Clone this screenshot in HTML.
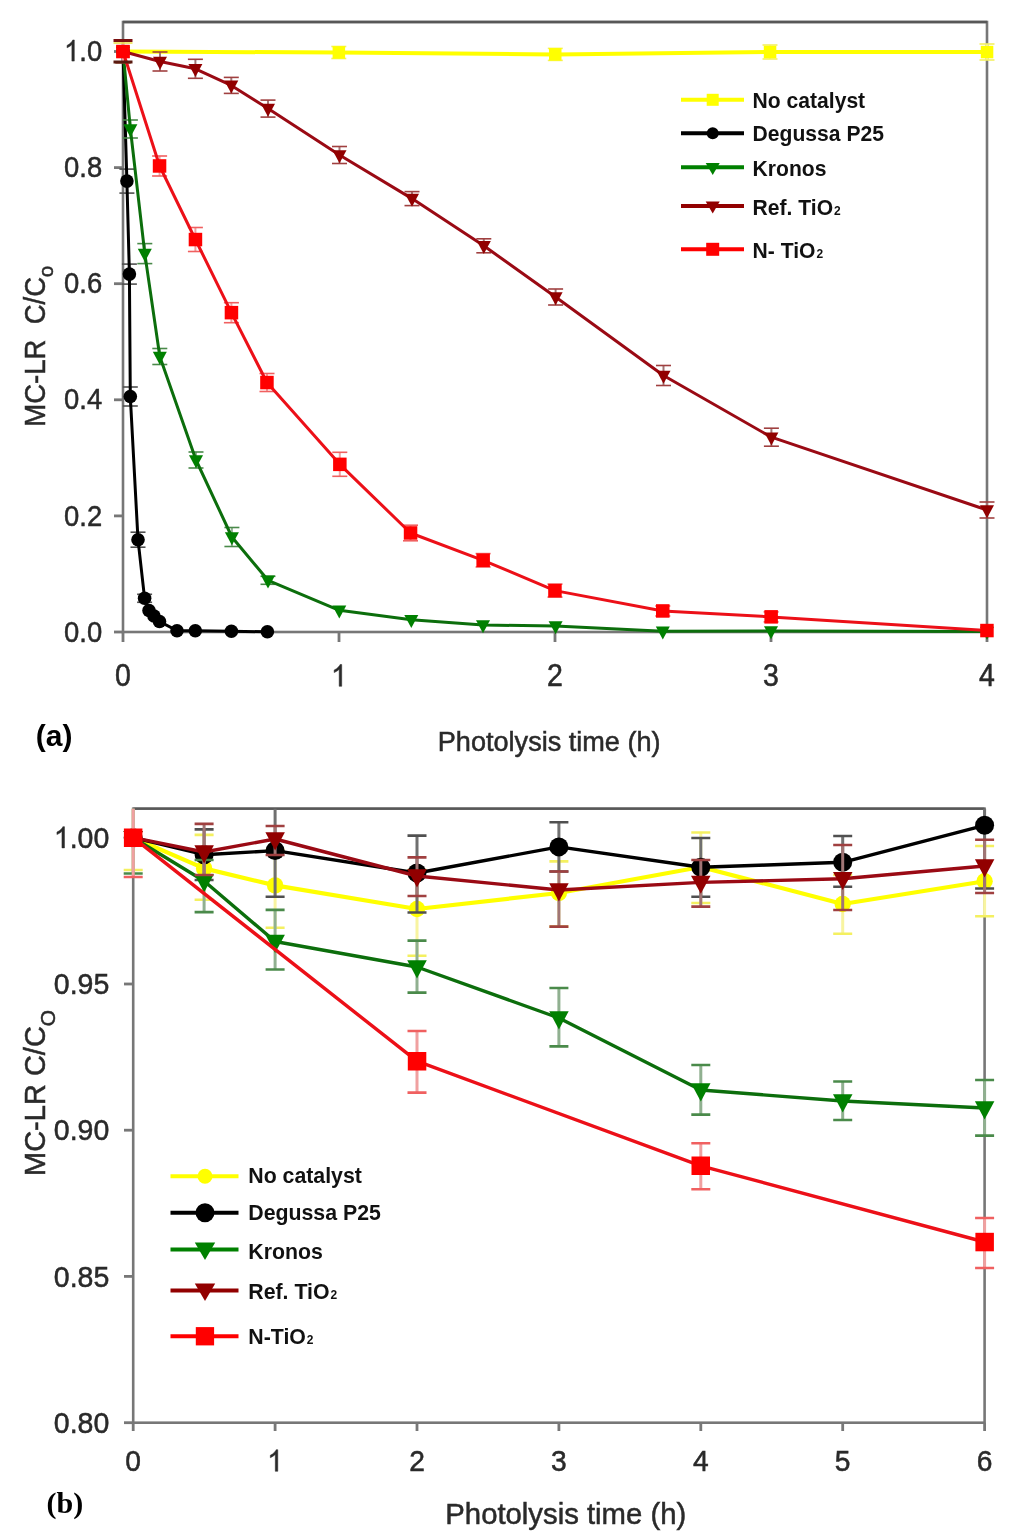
<!DOCTYPE html>
<html><head><meta charset="utf-8"><style>
html,body{margin:0;padding:0;background:#fff;}
svg{display:block;filter:blur(0.5px);font-family:"Liberation Sans", sans-serif;}
</style></head><body>
<svg width="1024" height="1538" viewBox="0 0 1024 1538">
<defs>
<clipPath id="clipA"><rect x="103" y="22" width="904" height="630"/></clipPath>
<clipPath id="clipB"><rect x="113.19999999999999" y="808.7" width="891.4000000000001" height="634.0"/></clipPath>
</defs>
<rect width="1024" height="1538" fill="#fff"/>
<rect x="123" y="22" width="864" height="610" fill="none" stroke="#777777" stroke-width="2.6"/><line x1="123" y1="22" x2="987" y2="22" stroke="#585858" stroke-width="2.3"/><line x1="114" y1="632.0" x2="123" y2="632.0" stroke="#777777" stroke-width="2.8"/><text transform="translate(64.07,641.60) scale(0.93,1.0)" font-size="29.5" fill="#2a2a2a" stroke="#2a2a2a" stroke-width="0.5">0.0</text><line x1="114" y1="515.9" x2="123" y2="515.9" stroke="#777777" stroke-width="2.8"/><text transform="translate(64.07,525.50) scale(0.93,1.0)" font-size="29.5" fill="#2a2a2a" stroke="#2a2a2a" stroke-width="0.5">0.2</text><line x1="114" y1="399.8" x2="123" y2="399.8" stroke="#777777" stroke-width="2.8"/><text transform="translate(64.07,409.40) scale(0.93,1.0)" font-size="29.5" fill="#2a2a2a" stroke="#2a2a2a" stroke-width="0.5">0.4</text><line x1="114" y1="283.7" x2="123" y2="283.7" stroke="#777777" stroke-width="2.8"/><text transform="translate(64.07,293.30) scale(0.93,1.0)" font-size="29.5" fill="#2a2a2a" stroke="#2a2a2a" stroke-width="0.5">0.6</text><line x1="114" y1="167.6" x2="123" y2="167.6" stroke="#777777" stroke-width="2.8"/><text transform="translate(64.07,177.20) scale(0.93,1.0)" font-size="29.5" fill="#2a2a2a" stroke="#2a2a2a" stroke-width="0.5">0.8</text><line x1="114" y1="51.5" x2="123" y2="51.5" stroke="#777777" stroke-width="2.8"/><polygon points="74.30,61.10 71.88,61.10 71.88,44.58 70.65,45.70 69.00,46.79 67.06,47.83 67.06,45.38 69.28,44.08 71.06,42.52 72.24,41.04 72.73,39.98 74.30,39.98" fill="#2a2a2a" stroke="#2a2a2a" stroke-width="0.5" stroke-linejoin="round"/><text transform="translate(79.32,61.10) scale(0.93,1.0)" font-size="29.5" fill="#2a2a2a" stroke="#2a2a2a" stroke-width="0.5">.0</text><line x1="123.0" y1="632" x2="123.0" y2="642" stroke="#777777" stroke-width="2.8"/><text transform="translate(115.08,686.30) scale(1.0,1.07)" font-size="28.5" fill="#2a2a2a" stroke="#2a2a2a" stroke-width="0.5">0</text><line x1="339.0" y1="632" x2="339.0" y2="642" stroke="#777777" stroke-width="2.8"/><polygon points="341.71,686.30 339.20,686.30 339.20,669.22 337.92,670.38 336.21,671.51 334.18,672.58 334.18,670.05 336.49,668.70 338.34,667.09 339.57,665.56 340.08,664.47 341.71,664.47" fill="#2a2a2a" stroke="#2a2a2a" stroke-width="0.5" stroke-linejoin="round"/><line x1="555.0" y1="632" x2="555.0" y2="642" stroke="#777777" stroke-width="2.8"/><text transform="translate(547.08,686.30) scale(1.0,1.07)" font-size="28.5" fill="#2a2a2a" stroke="#2a2a2a" stroke-width="0.5">2</text><line x1="771.0" y1="632" x2="771.0" y2="642" stroke="#777777" stroke-width="2.8"/><text transform="translate(763.08,686.30) scale(1.0,1.07)" font-size="28.5" fill="#2a2a2a" stroke="#2a2a2a" stroke-width="0.5">3</text><line x1="987.0" y1="632" x2="987.0" y2="642" stroke="#777777" stroke-width="2.8"/><text transform="translate(979.08,686.30) scale(1.0,1.07)" font-size="28.5" fill="#2a2a2a" stroke="#2a2a2a" stroke-width="0.5">4</text><g clip-path="url(#clipA)"><line x1="123.0" y1="40.5" x2="123.0" y2="62.5" stroke="#f8f4a0" stroke-width="2"/><line x1="115.5" y1="40.5" x2="130.5" y2="40.5" stroke="#f4f060" stroke-width="1.6"/><line x1="115.5" y1="62.5" x2="130.5" y2="62.5" stroke="#f4f060" stroke-width="1.6"/><line x1="338.8" y1="46.5" x2="338.8" y2="58.5" stroke="#f8f4a0" stroke-width="2"/><line x1="331.3" y1="46.5" x2="346.3" y2="46.5" stroke="#f4f060" stroke-width="1.6"/><line x1="331.3" y1="58.5" x2="346.3" y2="58.5" stroke="#f4f060" stroke-width="1.6"/><line x1="555.3" y1="48.4" x2="555.3" y2="60.4" stroke="#f8f4a0" stroke-width="2"/><line x1="547.8" y1="48.4" x2="562.8" y2="48.4" stroke="#f4f060" stroke-width="1.6"/><line x1="547.8" y1="60.4" x2="562.8" y2="60.4" stroke="#f4f060" stroke-width="1.6"/><line x1="770.0" y1="45.0" x2="770.0" y2="59.0" stroke="#f8f4a0" stroke-width="2"/><line x1="762.5" y1="45.0" x2="777.5" y2="45.0" stroke="#f4f060" stroke-width="1.6"/><line x1="762.5" y1="59.0" x2="777.5" y2="59.0" stroke="#f4f060" stroke-width="1.6"/><line x1="987.0" y1="44.0" x2="987.0" y2="60.0" stroke="#f8f4a0" stroke-width="2"/><line x1="979.5" y1="44.0" x2="994.5" y2="44.0" stroke="#f4f060" stroke-width="1.6"/><line x1="979.5" y1="60.0" x2="994.5" y2="60.0" stroke="#f4f060" stroke-width="1.6"/><polyline points="123.0,51.5 338.8,52.5 555.3,54.4 770.0,52.0 987.0,52.0" fill="none" stroke="#ffff00" stroke-width="4" stroke-linejoin="round"/><rect x="116.8" y="45.2" width="12.5" height="12.5" fill="#ffff00"/><rect x="332.6" y="46.2" width="12.5" height="12.5" fill="#ffff00"/><rect x="549.0" y="48.1" width="12.5" height="12.5" fill="#ffff00"/><rect x="763.8" y="45.8" width="12.5" height="12.5" fill="#ffff00"/><rect x="980.8" y="45.8" width="12.5" height="12.5" fill="#ffff00"/></g><g clip-path="url(#clipA)"><line x1="123.0" y1="40.5" x2="123.0" y2="62.5" stroke="#707070" stroke-width="2"/><line x1="115.5" y1="40.5" x2="130.5" y2="40.5" stroke="#505050" stroke-width="1.6"/><line x1="115.5" y1="62.5" x2="130.5" y2="62.5" stroke="#505050" stroke-width="1.6"/><line x1="126.9" y1="169.1" x2="126.9" y2="193.1" stroke="#707070" stroke-width="2"/><line x1="119.4" y1="169.1" x2="134.4" y2="169.1" stroke="#505050" stroke-width="1.6"/><line x1="119.4" y1="193.1" x2="134.4" y2="193.1" stroke="#505050" stroke-width="1.6"/><line x1="129.4" y1="264.1" x2="129.4" y2="284.1" stroke="#707070" stroke-width="2"/><line x1="121.9" y1="264.1" x2="136.9" y2="264.1" stroke="#505050" stroke-width="1.6"/><line x1="121.9" y1="284.1" x2="136.9" y2="284.1" stroke="#505050" stroke-width="1.6"/><line x1="130.3" y1="387.0" x2="130.3" y2="406.0" stroke="#707070" stroke-width="2"/><line x1="122.8" y1="387.0" x2="137.8" y2="387.0" stroke="#505050" stroke-width="1.6"/><line x1="122.8" y1="406.0" x2="137.8" y2="406.0" stroke="#505050" stroke-width="1.6"/><line x1="138.0" y1="532.2" x2="138.0" y2="547.2" stroke="#707070" stroke-width="2"/><line x1="130.5" y1="532.2" x2="145.5" y2="532.2" stroke="#505050" stroke-width="1.6"/><line x1="130.5" y1="547.2" x2="145.5" y2="547.2" stroke="#505050" stroke-width="1.6"/><line x1="144.6" y1="594.3" x2="144.6" y2="602.3" stroke="#707070" stroke-width="2"/><line x1="137.1" y1="594.3" x2="152.1" y2="594.3" stroke="#505050" stroke-width="1.6"/><line x1="137.1" y1="602.3" x2="152.1" y2="602.3" stroke="#505050" stroke-width="1.6"/><polyline points="123.0,51.5 126.9,181.1 129.4,274.1 130.3,396.5 138.0,539.7 144.6,598.3 149.0,610.5 154.0,616.0 159.5,621.5 177.0,630.7 195.3,630.7 231.4,631.3 267.4,631.8" fill="none" stroke="#000000" stroke-width="3" stroke-linejoin="round"/><circle cx="123.0" cy="51.5" r="6.8" fill="#000000"/><circle cx="126.9" cy="181.1" r="6.8" fill="#000000"/><circle cx="129.4" cy="274.1" r="6.8" fill="#000000"/><circle cx="130.3" cy="396.5" r="6.8" fill="#000000"/><circle cx="138.0" cy="539.7" r="6.8" fill="#000000"/><circle cx="144.6" cy="598.3" r="6.8" fill="#000000"/><circle cx="149.0" cy="610.5" r="6.8" fill="#000000"/><circle cx="154.0" cy="616.0" r="6.8" fill="#000000"/><circle cx="159.5" cy="621.5" r="6.8" fill="#000000"/><circle cx="177.0" cy="630.7" r="6.8" fill="#000000"/><circle cx="195.3" cy="630.7" r="6.8" fill="#000000"/><circle cx="231.4" cy="631.3" r="6.8" fill="#000000"/><circle cx="267.4" cy="631.8" r="6.8" fill="#000000"/></g><g clip-path="url(#clipA)"><line x1="123.0" y1="40.5" x2="123.0" y2="62.5" stroke="#90b090" stroke-width="2"/><line x1="115.5" y1="40.5" x2="130.5" y2="40.5" stroke="#4a8a4a" stroke-width="1.6"/><line x1="115.5" y1="62.5" x2="130.5" y2="62.5" stroke="#4a8a4a" stroke-width="1.6"/><line x1="130.4" y1="120.0" x2="130.4" y2="138.0" stroke="#90b090" stroke-width="2"/><line x1="122.9" y1="120.0" x2="137.9" y2="120.0" stroke="#4a8a4a" stroke-width="1.6"/><line x1="122.9" y1="138.0" x2="137.9" y2="138.0" stroke="#4a8a4a" stroke-width="1.6"/><line x1="144.8" y1="243.6" x2="144.8" y2="263.6" stroke="#90b090" stroke-width="2"/><line x1="137.3" y1="243.6" x2="152.3" y2="243.6" stroke="#4a8a4a" stroke-width="1.6"/><line x1="137.3" y1="263.6" x2="152.3" y2="263.6" stroke="#4a8a4a" stroke-width="1.6"/><line x1="159.8" y1="348.5" x2="159.8" y2="364.5" stroke="#90b090" stroke-width="2"/><line x1="152.3" y1="348.5" x2="167.3" y2="348.5" stroke="#4a8a4a" stroke-width="1.6"/><line x1="152.3" y1="364.5" x2="167.3" y2="364.5" stroke="#4a8a4a" stroke-width="1.6"/><line x1="196.0" y1="452.0" x2="196.0" y2="468.0" stroke="#90b090" stroke-width="2"/><line x1="188.5" y1="452.0" x2="203.5" y2="452.0" stroke="#4a8a4a" stroke-width="1.6"/><line x1="188.5" y1="468.0" x2="203.5" y2="468.0" stroke="#4a8a4a" stroke-width="1.6"/><line x1="231.9" y1="527.5" x2="231.9" y2="546.5" stroke="#90b090" stroke-width="2"/><line x1="224.4" y1="527.5" x2="239.4" y2="527.5" stroke="#4a8a4a" stroke-width="1.6"/><line x1="224.4" y1="546.5" x2="239.4" y2="546.5" stroke="#4a8a4a" stroke-width="1.6"/><line x1="268.0" y1="576.3" x2="268.0" y2="584.3" stroke="#90b090" stroke-width="2"/><line x1="260.5" y1="576.3" x2="275.5" y2="576.3" stroke="#4a8a4a" stroke-width="1.6"/><line x1="260.5" y1="584.3" x2="275.5" y2="584.3" stroke="#4a8a4a" stroke-width="1.6"/><polyline points="123.0,51.5 130.4,129.0 144.8,253.6 159.8,356.5 196.0,460.0 231.9,537.0 268.0,580.3 339.3,610.3 411.3,619.7 483.0,625.0 555.6,626.0 662.8,631.3 771.0,631.1 987.0,631.5" fill="none" stroke="#0c6e0c" stroke-width="3" stroke-linejoin="round"/><polygon points="116.0,46.7 130.0,46.7 123.0,59.7" fill="#008000"/><polygon points="123.4,124.2 137.4,124.2 130.4,137.2" fill="#008000"/><polygon points="137.8,248.8 151.8,248.8 144.8,261.8" fill="#008000"/><polygon points="152.8,351.7 166.8,351.7 159.8,364.7" fill="#008000"/><polygon points="189.0,455.2 203.0,455.2 196.0,468.2" fill="#008000"/><polygon points="224.9,532.2 238.9,532.2 231.9,545.2" fill="#008000"/><polygon points="261.0,575.5 275.0,575.5 268.0,588.5" fill="#008000"/><polygon points="332.3,605.5 346.3,605.5 339.3,618.5" fill="#008000"/><polygon points="404.3,614.9 418.3,614.9 411.3,627.9" fill="#008000"/><polygon points="476.0,620.2 490.0,620.2 483.0,633.2" fill="#008000"/><polygon points="548.6,621.2 562.6,621.2 555.6,634.2" fill="#008000"/><polygon points="655.8,626.5 669.8,626.5 662.8,639.5" fill="#008000"/><polygon points="764.0,626.3 778.0,626.3 771.0,639.3" fill="#008000"/><polygon points="980.0,626.7 994.0,626.7 987.0,639.7" fill="#008000"/></g><g clip-path="url(#clipA)"><line x1="123.0" y1="40.5" x2="123.0" y2="62.5" stroke="#a07575" stroke-width="2"/><line x1="115.5" y1="40.5" x2="130.5" y2="40.5" stroke="#a04040" stroke-width="1.6"/><line x1="115.5" y1="62.5" x2="130.5" y2="62.5" stroke="#a04040" stroke-width="1.6"/><line x1="160.0" y1="52.0" x2="160.0" y2="71.0" stroke="#a07575" stroke-width="2"/><line x1="152.5" y1="52.0" x2="167.5" y2="52.0" stroke="#a04040" stroke-width="1.6"/><line x1="152.5" y1="71.0" x2="167.5" y2="71.0" stroke="#a04040" stroke-width="1.6"/><line x1="195.4" y1="59.3" x2="195.4" y2="78.3" stroke="#a07575" stroke-width="2"/><line x1="187.9" y1="59.3" x2="202.9" y2="59.3" stroke="#a04040" stroke-width="1.6"/><line x1="187.9" y1="78.3" x2="202.9" y2="78.3" stroke="#a04040" stroke-width="1.6"/><line x1="231.3" y1="77.4" x2="231.3" y2="93.4" stroke="#a07575" stroke-width="2"/><line x1="223.8" y1="77.4" x2="238.8" y2="77.4" stroke="#a04040" stroke-width="1.6"/><line x1="223.8" y1="93.4" x2="238.8" y2="93.4" stroke="#a04040" stroke-width="1.6"/><line x1="268.0" y1="100.1" x2="268.0" y2="117.1" stroke="#a07575" stroke-width="2"/><line x1="260.5" y1="100.1" x2="275.5" y2="100.1" stroke="#a04040" stroke-width="1.6"/><line x1="260.5" y1="117.1" x2="275.5" y2="117.1" stroke="#a04040" stroke-width="1.6"/><line x1="339.5" y1="146.5" x2="339.5" y2="163.5" stroke="#a07575" stroke-width="2"/><line x1="332.0" y1="146.5" x2="347.0" y2="146.5" stroke="#a04040" stroke-width="1.6"/><line x1="332.0" y1="163.5" x2="347.0" y2="163.5" stroke="#a04040" stroke-width="1.6"/><line x1="412.0" y1="191.6" x2="412.0" y2="205.6" stroke="#a07575" stroke-width="2"/><line x1="404.5" y1="191.6" x2="419.5" y2="191.6" stroke="#a04040" stroke-width="1.6"/><line x1="404.5" y1="205.6" x2="419.5" y2="205.6" stroke="#a04040" stroke-width="1.6"/><line x1="483.8" y1="238.8" x2="483.8" y2="252.8" stroke="#a07575" stroke-width="2"/><line x1="476.3" y1="238.8" x2="491.3" y2="238.8" stroke="#a04040" stroke-width="1.6"/><line x1="476.3" y1="252.8" x2="491.3" y2="252.8" stroke="#a04040" stroke-width="1.6"/><line x1="555.6" y1="289.0" x2="555.6" y2="305.0" stroke="#a07575" stroke-width="2"/><line x1="548.1" y1="289.0" x2="563.1" y2="289.0" stroke="#a04040" stroke-width="1.6"/><line x1="548.1" y1="305.0" x2="563.1" y2="305.0" stroke="#a04040" stroke-width="1.6"/><line x1="663.5" y1="365.5" x2="663.5" y2="385.5" stroke="#a07575" stroke-width="2"/><line x1="656.0" y1="365.5" x2="671.0" y2="365.5" stroke="#a04040" stroke-width="1.6"/><line x1="656.0" y1="385.5" x2="671.0" y2="385.5" stroke="#a04040" stroke-width="1.6"/><line x1="771.4" y1="428.2" x2="771.4" y2="446.2" stroke="#a07575" stroke-width="2"/><line x1="763.9" y1="428.2" x2="778.9" y2="428.2" stroke="#a04040" stroke-width="1.6"/><line x1="763.9" y1="446.2" x2="778.9" y2="446.2" stroke="#a04040" stroke-width="1.6"/><line x1="987.0" y1="502.0" x2="987.0" y2="518.0" stroke="#a07575" stroke-width="2"/><line x1="979.5" y1="502.0" x2="994.5" y2="502.0" stroke="#a04040" stroke-width="1.6"/><line x1="979.5" y1="518.0" x2="994.5" y2="518.0" stroke="#a04040" stroke-width="1.6"/><polyline points="123.0,51.5 160.0,61.5 195.4,68.8 231.3,85.4 268.0,108.6 339.5,155.0 412.0,198.6 483.8,245.8 555.6,297.0 663.5,375.5 771.4,437.2 987.0,510.0" fill="none" stroke="#9a0a14" stroke-width="3" stroke-linejoin="round"/><polygon points="116.0,46.7 130.0,46.7 123.0,59.7" fill="#920000"/><polygon points="153.0,56.7 167.0,56.7 160.0,69.7" fill="#920000"/><polygon points="188.4,64.0 202.4,64.0 195.4,77.0" fill="#920000"/><polygon points="224.3,80.6 238.3,80.6 231.3,93.6" fill="#920000"/><polygon points="261.0,103.8 275.0,103.8 268.0,116.8" fill="#920000"/><polygon points="332.5,150.2 346.5,150.2 339.5,163.2" fill="#920000"/><polygon points="405.0,193.8 419.0,193.8 412.0,206.8" fill="#920000"/><polygon points="476.8,241.0 490.8,241.0 483.8,254.0" fill="#920000"/><polygon points="548.6,292.2 562.6,292.2 555.6,305.2" fill="#920000"/><polygon points="656.5,370.7 670.5,370.7 663.5,383.7" fill="#920000"/><polygon points="764.4,432.4 778.4,432.4 771.4,445.4" fill="#920000"/><polygon points="980.0,505.2 994.0,505.2 987.0,518.2" fill="#920000"/></g><g clip-path="url(#clipA)"><line x1="123.0" y1="40.5" x2="123.0" y2="62.5" stroke="#f0a0a0" stroke-width="2"/><line x1="115.5" y1="40.5" x2="130.5" y2="40.5" stroke="#f06060" stroke-width="1.6"/><line x1="115.5" y1="62.5" x2="130.5" y2="62.5" stroke="#f06060" stroke-width="1.6"/><line x1="159.6" y1="156.0" x2="159.6" y2="176.0" stroke="#f0a0a0" stroke-width="2"/><line x1="152.1" y1="156.0" x2="167.1" y2="156.0" stroke="#f06060" stroke-width="1.6"/><line x1="152.1" y1="176.0" x2="167.1" y2="176.0" stroke="#f06060" stroke-width="1.6"/><line x1="195.4" y1="227.5" x2="195.4" y2="251.5" stroke="#f0a0a0" stroke-width="2"/><line x1="187.9" y1="227.5" x2="202.9" y2="227.5" stroke="#f06060" stroke-width="1.6"/><line x1="187.9" y1="251.5" x2="202.9" y2="251.5" stroke="#f06060" stroke-width="1.6"/><line x1="231.4" y1="302.7" x2="231.4" y2="322.7" stroke="#f0a0a0" stroke-width="2"/><line x1="223.9" y1="302.7" x2="238.9" y2="302.7" stroke="#f06060" stroke-width="1.6"/><line x1="223.9" y1="322.7" x2="238.9" y2="322.7" stroke="#f06060" stroke-width="1.6"/><line x1="267.0" y1="373.5" x2="267.0" y2="391.5" stroke="#f0a0a0" stroke-width="2"/><line x1="259.5" y1="373.5" x2="274.5" y2="373.5" stroke="#f06060" stroke-width="1.6"/><line x1="259.5" y1="391.5" x2="274.5" y2="391.5" stroke="#f06060" stroke-width="1.6"/><line x1="339.8" y1="452.3" x2="339.8" y2="476.3" stroke="#f0a0a0" stroke-width="2"/><line x1="332.3" y1="452.3" x2="347.3" y2="452.3" stroke="#f06060" stroke-width="1.6"/><line x1="332.3" y1="476.3" x2="347.3" y2="476.3" stroke="#f06060" stroke-width="1.6"/><line x1="410.5" y1="525.2" x2="410.5" y2="540.8" stroke="#f0a0a0" stroke-width="2"/><line x1="403.0" y1="525.2" x2="418.0" y2="525.2" stroke="#f06060" stroke-width="1.6"/><line x1="403.0" y1="540.8" x2="418.0" y2="540.8" stroke="#f06060" stroke-width="1.6"/><line x1="483.1" y1="553.6" x2="483.1" y2="567.0" stroke="#f0a0a0" stroke-width="2"/><line x1="475.6" y1="553.6" x2="490.6" y2="553.6" stroke="#f06060" stroke-width="1.6"/><line x1="475.6" y1="567.0" x2="490.6" y2="567.0" stroke="#f06060" stroke-width="1.6"/><line x1="555.0" y1="584.1" x2="555.0" y2="597.1" stroke="#f0a0a0" stroke-width="2"/><line x1="547.5" y1="584.1" x2="562.5" y2="584.1" stroke="#f06060" stroke-width="1.6"/><line x1="547.5" y1="597.1" x2="562.5" y2="597.1" stroke="#f06060" stroke-width="1.6"/><line x1="662.8" y1="606.0" x2="662.8" y2="616.0" stroke="#f0a0a0" stroke-width="2"/><line x1="655.3" y1="606.0" x2="670.3" y2="606.0" stroke="#f06060" stroke-width="1.6"/><line x1="655.3" y1="616.0" x2="670.3" y2="616.0" stroke="#f06060" stroke-width="1.6"/><line x1="771.1" y1="611.9" x2="771.1" y2="621.9" stroke="#f0a0a0" stroke-width="2"/><line x1="763.6" y1="611.9" x2="778.6" y2="611.9" stroke="#f06060" stroke-width="1.6"/><line x1="763.6" y1="621.9" x2="778.6" y2="621.9" stroke="#f06060" stroke-width="1.6"/><polyline points="123.0,51.5 159.6,166.0 195.4,239.5 231.4,312.7 267.0,382.5 339.8,464.3 410.5,533.0 483.1,560.3 555.0,590.6 662.8,611.0 771.1,616.9 987.0,630.5" fill="none" stroke="#ec1018" stroke-width="3" stroke-linejoin="round"/><rect x="116.2" y="44.8" width="13.5" height="13.5" fill="#ff0000"/><rect x="152.8" y="159.2" width="13.5" height="13.5" fill="#ff0000"/><rect x="188.7" y="232.8" width="13.5" height="13.5" fill="#ff0000"/><rect x="224.7" y="305.9" width="13.5" height="13.5" fill="#ff0000"/><rect x="260.2" y="375.8" width="13.5" height="13.5" fill="#ff0000"/><rect x="333.1" y="457.6" width="13.5" height="13.5" fill="#ff0000"/><rect x="403.8" y="526.2" width="13.5" height="13.5" fill="#ff0000"/><rect x="476.4" y="553.5" width="13.5" height="13.5" fill="#ff0000"/><rect x="548.2" y="583.9" width="13.5" height="13.5" fill="#ff0000"/><rect x="656.0" y="604.2" width="13.5" height="13.5" fill="#ff0000"/><rect x="764.4" y="610.1" width="13.5" height="13.5" fill="#ff0000"/><rect x="980.2" y="623.8" width="13.5" height="13.5" fill="#ff0000"/></g><line x1="113.5" y1="40.5" x2="132.5" y2="40.5" stroke="#7a1010" stroke-width="3"/><line x1="113.5" y1="43" x2="132.5" y2="43" stroke="#e8e040" stroke-width="1.5"/><line x1="113.5" y1="62" x2="132.5" y2="62" stroke="#5a1a10" stroke-width="3"/><rect x="116.5" y="45" width="13" height="13" fill="#ff0000"/><line x1="681" y1="99.8" x2="744" y2="99.8" stroke="#ffff00" stroke-width="4"/><rect x="706.7" y="93.8" width="12.0" height="12.0" fill="#ffff00"/><text transform="translate(752.60,107.50) scale(1,1.07)" text-anchor="start" font-size="21.1" font-weight="bold" fill="#111">No catalyst</text><line x1="681" y1="133.3" x2="744" y2="133.3" stroke="#000000" stroke-width="4"/><circle cx="712.7" cy="133.3" r="6.0" fill="#000000"/><text transform="translate(752.60,140.80) scale(1,1.07)" text-anchor="start" font-size="21.1" font-weight="bold" fill="#111">Degussa P25</text><line x1="681" y1="167.3" x2="744" y2="167.3" stroke="#008000" stroke-width="4"/><polygon points="705.7,163.0 719.7,163.0 712.7,175.0" fill="#008000"/><text transform="translate(752.60,176.00) scale(1,1.07)" text-anchor="start" font-size="21.1" font-weight="bold" fill="#111">Kronos</text><line x1="681" y1="205.9" x2="744" y2="205.9" stroke="#920000" stroke-width="4"/><polygon points="705.7,201.6 719.7,201.6 712.7,213.6" fill="#920000"/><text transform="translate(752.60,215.30) scale(1,1.07)" text-anchor="start" font-size="21.1" font-weight="bold" fill="#111">Ref. TiO<tspan font-size="12" dx="1">2</tspan></text><line x1="681" y1="249.3" x2="744" y2="249.3" stroke="#ff0000" stroke-width="4"/><rect x="706.2" y="242.8" width="13.0" height="13.0" fill="#ff0000"/><text transform="translate(752.60,258.00) scale(1,1.07)" text-anchor="start" font-size="21.1" font-weight="bold" fill="#111">N- TiO<tspan font-size="12" dx="1">2</tspan></text><text transform="translate(437.80,750.70) scale(1,1.05)" text-anchor="start" font-size="27.1" font-weight="normal" fill="#2a2a2a" stroke="#2a2a2a" stroke-width="0.5">Photolysis time (h)</text><text transform="translate(44.5,426.8) rotate(-90) scale(0.95,1)" font-size="29" fill="#2a2a2a" stroke="#2a2a2a" stroke-width="0.5">MC-LR&#160;&#160;C/C<tspan font-size="21" dy="8.5">o</tspan></text><text transform="translate(35.80,745.50)" text-anchor="start" font-size="30" font-weight="bold" fill="#000">(a)</text>
<rect x="133.2" y="808.7" width="851.4000000000001" height="614.0" fill="none" stroke="#777777" stroke-width="2.6"/><line x1="133.2" y1="808.7" x2="984.6" y2="808.7" stroke="#585858" stroke-width="2.3"/><line x1="124" y1="1422.7" x2="133.2" y2="1422.7" stroke="#777777" stroke-width="2.8"/><text transform="translate(53.84,1432.90) scale(1.0,1.04)" font-size="28.5" fill="#2a2a2a" stroke="#2a2a2a" stroke-width="0.5">0.80</text><line x1="124" y1="1276.4" x2="133.2" y2="1276.4" stroke="#777777" stroke-width="2.8"/><text transform="translate(53.84,1286.65) scale(1.0,1.04)" font-size="28.5" fill="#2a2a2a" stroke="#2a2a2a" stroke-width="0.5">0.85</text><line x1="124" y1="1130.2" x2="133.2" y2="1130.2" stroke="#777777" stroke-width="2.8"/><text transform="translate(53.84,1140.40) scale(1.0,1.04)" font-size="28.5" fill="#2a2a2a" stroke="#2a2a2a" stroke-width="0.5">0.90</text><line x1="124" y1="984.0" x2="133.2" y2="984.0" stroke="#777777" stroke-width="2.8"/><text transform="translate(53.84,994.15) scale(1.0,1.04)" font-size="28.5" fill="#2a2a2a" stroke="#2a2a2a" stroke-width="0.5">0.95</text><line x1="124" y1="837.7" x2="133.2" y2="837.7" stroke="#777777" stroke-width="2.8"/><polygon points="64.47,847.90 61.96,847.90 61.96,831.30 60.68,832.43 58.97,833.52 56.95,834.56 56.95,832.10 59.25,830.80 61.11,829.23 62.33,827.74 62.84,826.68 64.47,826.68" fill="#2a2a2a" stroke="#2a2a2a" stroke-width="0.5" stroke-linejoin="round"/><text transform="translate(69.68,847.90) scale(1.0,1.04)" font-size="28.5" fill="#2a2a2a" stroke="#2a2a2a" stroke-width="0.5">.00</text><line x1="133.2" y1="1422.7" x2="133.2" y2="1431" stroke="#777777" stroke-width="2.8"/><text transform="translate(125.36,1471.30) scale(1.0,1.07)" font-size="28.2" fill="#2a2a2a" stroke="#2a2a2a" stroke-width="0.5">0</text><line x1="275.1" y1="1422.7" x2="275.1" y2="1431" stroke="#777777" stroke-width="2.8"/><polygon points="277.78,1471.30 275.30,1471.30 275.30,1454.40 274.03,1455.55 272.34,1456.67 270.33,1457.72 270.33,1455.22 272.62,1453.89 274.45,1452.29 275.66,1450.78 276.17,1449.70 277.78,1449.70" fill="#2a2a2a" stroke="#2a2a2a" stroke-width="0.5" stroke-linejoin="round"/><line x1="417.0" y1="1422.7" x2="417.0" y2="1431" stroke="#777777" stroke-width="2.8"/><text transform="translate(409.16,1471.30) scale(1.0,1.07)" font-size="28.2" fill="#2a2a2a" stroke="#2a2a2a" stroke-width="0.5">2</text><line x1="558.9" y1="1422.7" x2="558.9" y2="1431" stroke="#777777" stroke-width="2.8"/><text transform="translate(551.06,1471.30) scale(1.0,1.07)" font-size="28.2" fill="#2a2a2a" stroke="#2a2a2a" stroke-width="0.5">3</text><line x1="700.8" y1="1422.7" x2="700.8" y2="1431" stroke="#777777" stroke-width="2.8"/><text transform="translate(692.96,1471.30) scale(1.0,1.07)" font-size="28.2" fill="#2a2a2a" stroke="#2a2a2a" stroke-width="0.5">4</text><line x1="842.7" y1="1422.7" x2="842.7" y2="1431" stroke="#777777" stroke-width="2.8"/><text transform="translate(834.86,1471.30) scale(1.0,1.07)" font-size="28.2" fill="#2a2a2a" stroke="#2a2a2a" stroke-width="0.5">5</text><line x1="984.6" y1="1422.7" x2="984.6" y2="1431" stroke="#777777" stroke-width="2.8"/><text transform="translate(976.76,1471.30) scale(1.0,1.07)" font-size="28.2" fill="#2a2a2a" stroke="#2a2a2a" stroke-width="0.5">6</text><g clip-path="url(#clipB)"><line x1="133.2" y1="805.0" x2="133.2" y2="870.0" stroke="#f8f4a0" stroke-width="3"/><line x1="123.7" y1="805.0" x2="142.7" y2="805.0" stroke="#f4f060" stroke-width="2.6"/><line x1="123.7" y1="870.0" x2="142.7" y2="870.0" stroke="#f4f060" stroke-width="2.6"/><line x1="204.1" y1="834.9" x2="204.1" y2="899.8" stroke="#f8f4a0" stroke-width="3"/><line x1="194.6" y1="834.9" x2="213.6" y2="834.9" stroke="#f4f060" stroke-width="2.6"/><line x1="194.6" y1="899.8" x2="213.6" y2="899.8" stroke="#f4f060" stroke-width="2.6"/><line x1="275.1" y1="850.0" x2="275.1" y2="927.7" stroke="#f8f4a0" stroke-width="3"/><line x1="265.6" y1="850.0" x2="284.6" y2="850.0" stroke="#f4f060" stroke-width="2.6"/><line x1="265.6" y1="927.7" x2="284.6" y2="927.7" stroke="#f4f060" stroke-width="2.6"/><line x1="417.0" y1="870.0" x2="417.0" y2="955.8" stroke="#f8f4a0" stroke-width="3"/><line x1="407.5" y1="870.0" x2="426.5" y2="870.0" stroke="#f4f060" stroke-width="2.6"/><line x1="407.5" y1="955.8" x2="426.5" y2="955.8" stroke="#f4f060" stroke-width="2.6"/><line x1="558.9" y1="861.4" x2="558.9" y2="926.6" stroke="#f8f4a0" stroke-width="3"/><line x1="549.4" y1="861.4" x2="568.4" y2="861.4" stroke="#f4f060" stroke-width="2.6"/><line x1="549.4" y1="926.6" x2="568.4" y2="926.6" stroke="#f4f060" stroke-width="2.6"/><line x1="700.8" y1="832.5" x2="700.8" y2="903.0" stroke="#f8f4a0" stroke-width="3"/><line x1="691.3" y1="832.5" x2="710.3" y2="832.5" stroke="#f4f060" stroke-width="2.6"/><line x1="691.3" y1="903.0" x2="710.3" y2="903.0" stroke="#f4f060" stroke-width="2.6"/><line x1="842.7" y1="875.0" x2="842.7" y2="933.7" stroke="#f8f4a0" stroke-width="3"/><line x1="833.2" y1="875.0" x2="852.2" y2="875.0" stroke="#f4f060" stroke-width="2.6"/><line x1="833.2" y1="933.7" x2="852.2" y2="933.7" stroke="#f4f060" stroke-width="2.6"/><line x1="984.6" y1="846.0" x2="984.6" y2="916.3" stroke="#f8f4a0" stroke-width="3"/><line x1="975.1" y1="846.0" x2="994.1" y2="846.0" stroke="#f4f060" stroke-width="2.6"/><line x1="975.1" y1="916.3" x2="994.1" y2="916.3" stroke="#f4f060" stroke-width="2.6"/><polyline points="133.2,837.7 204.1,868.4 275.1,885.4 417.0,909.0 558.9,893.0 700.8,867.0 842.7,904.0 984.6,881.3" fill="none" stroke="#ffff00" stroke-width="4.2" stroke-linejoin="round"/><circle cx="133.2" cy="837.7" r="8.2" fill="#ffff00"/><circle cx="204.1" cy="868.4" r="8.2" fill="#ffff00"/><circle cx="275.1" cy="885.4" r="8.2" fill="#ffff00"/><circle cx="417.0" cy="909.0" r="8.2" fill="#ffff00"/><circle cx="558.9" cy="893.0" r="8.2" fill="#ffff00"/><circle cx="700.8" cy="867.0" r="8.2" fill="#ffff00"/><circle cx="842.7" cy="904.0" r="8.2" fill="#ffff00"/><circle cx="984.6" cy="881.3" r="8.2" fill="#ffff00"/></g><g clip-path="url(#clipB)"><line x1="204.1" y1="829.4" x2="204.1" y2="880.0" stroke="#707070" stroke-width="3"/><line x1="194.6" y1="829.4" x2="213.6" y2="829.4" stroke="#505050" stroke-width="2.6"/><line x1="194.6" y1="880.0" x2="213.6" y2="880.0" stroke="#505050" stroke-width="2.6"/><line x1="275.1" y1="805.0" x2="275.1" y2="896.8" stroke="#707070" stroke-width="3"/><line x1="265.6" y1="805.0" x2="284.6" y2="805.0" stroke="#505050" stroke-width="2.6"/><line x1="265.6" y1="896.8" x2="284.6" y2="896.8" stroke="#505050" stroke-width="2.6"/><line x1="417.0" y1="835.6" x2="417.0" y2="912.5" stroke="#707070" stroke-width="3"/><line x1="407.5" y1="835.6" x2="426.5" y2="835.6" stroke="#505050" stroke-width="2.6"/><line x1="407.5" y1="912.5" x2="426.5" y2="912.5" stroke="#505050" stroke-width="2.6"/><line x1="558.9" y1="822.3" x2="558.9" y2="871.5" stroke="#707070" stroke-width="3"/><line x1="549.4" y1="822.3" x2="568.4" y2="822.3" stroke="#505050" stroke-width="2.6"/><line x1="549.4" y1="871.5" x2="568.4" y2="871.5" stroke="#505050" stroke-width="2.6"/><line x1="700.8" y1="838.0" x2="700.8" y2="896.8" stroke="#707070" stroke-width="3"/><line x1="691.3" y1="838.0" x2="710.3" y2="838.0" stroke="#505050" stroke-width="2.6"/><line x1="691.3" y1="896.8" x2="710.3" y2="896.8" stroke="#505050" stroke-width="2.6"/><line x1="842.7" y1="836.0" x2="842.7" y2="886.7" stroke="#707070" stroke-width="3"/><line x1="833.2" y1="836.0" x2="852.2" y2="836.0" stroke="#505050" stroke-width="2.6"/><line x1="833.2" y1="886.7" x2="852.2" y2="886.7" stroke="#505050" stroke-width="2.6"/><line x1="984.6" y1="805.0" x2="984.6" y2="888.5" stroke="#707070" stroke-width="3"/><line x1="975.1" y1="805.0" x2="994.1" y2="805.0" stroke="#505050" stroke-width="2.6"/><line x1="975.1" y1="888.5" x2="994.1" y2="888.5" stroke="#505050" stroke-width="2.6"/><polyline points="133.2,837.7 204.1,854.7 275.1,850.6 417.0,873.0 558.9,846.9 700.8,867.3 842.7,862.3 984.6,825.3" fill="none" stroke="#000000" stroke-width="3.4" stroke-linejoin="round"/><circle cx="133.2" cy="837.7" r="9.5" fill="#000000"/><circle cx="204.1" cy="854.7" r="9.5" fill="#000000"/><circle cx="275.1" cy="850.6" r="9.5" fill="#000000"/><circle cx="417.0" cy="873.0" r="9.5" fill="#000000"/><circle cx="558.9" cy="846.9" r="9.5" fill="#000000"/><circle cx="700.8" cy="867.3" r="9.5" fill="#000000"/><circle cx="842.7" cy="862.3" r="9.5" fill="#000000"/><circle cx="984.6" cy="825.3" r="9.5" fill="#000000"/></g><g clip-path="url(#clipB)"><line x1="133.2" y1="805.0" x2="133.2" y2="873.5" stroke="#90b090" stroke-width="3"/><line x1="123.7" y1="805.0" x2="142.7" y2="805.0" stroke="#4a8a4a" stroke-width="2.6"/><line x1="123.7" y1="873.5" x2="142.7" y2="873.5" stroke="#4a8a4a" stroke-width="2.6"/><line x1="204.1" y1="860.0" x2="204.1" y2="912.1" stroke="#90b090" stroke-width="3"/><line x1="194.6" y1="860.0" x2="213.6" y2="860.0" stroke="#4a8a4a" stroke-width="2.6"/><line x1="194.6" y1="912.1" x2="213.6" y2="912.1" stroke="#4a8a4a" stroke-width="2.6"/><line x1="275.1" y1="909.9" x2="275.1" y2="969.5" stroke="#90b090" stroke-width="3"/><line x1="265.6" y1="909.9" x2="284.6" y2="909.9" stroke="#4a8a4a" stroke-width="2.6"/><line x1="265.6" y1="969.5" x2="284.6" y2="969.5" stroke="#4a8a4a" stroke-width="2.6"/><line x1="417.0" y1="940.6" x2="417.0" y2="992.6" stroke="#90b090" stroke-width="3"/><line x1="407.5" y1="940.6" x2="426.5" y2="940.6" stroke="#4a8a4a" stroke-width="2.6"/><line x1="407.5" y1="992.6" x2="426.5" y2="992.6" stroke="#4a8a4a" stroke-width="2.6"/><line x1="558.9" y1="988.0" x2="558.9" y2="1046.4" stroke="#90b090" stroke-width="3"/><line x1="549.4" y1="988.0" x2="568.4" y2="988.0" stroke="#4a8a4a" stroke-width="2.6"/><line x1="549.4" y1="1046.4" x2="568.4" y2="1046.4" stroke="#4a8a4a" stroke-width="2.6"/><line x1="700.8" y1="1065.0" x2="700.8" y2="1114.6" stroke="#90b090" stroke-width="3"/><line x1="691.3" y1="1065.0" x2="710.3" y2="1065.0" stroke="#4a8a4a" stroke-width="2.6"/><line x1="691.3" y1="1114.6" x2="710.3" y2="1114.6" stroke="#4a8a4a" stroke-width="2.6"/><line x1="842.7" y1="1081.5" x2="842.7" y2="1120.0" stroke="#90b090" stroke-width="3"/><line x1="833.2" y1="1081.5" x2="852.2" y2="1081.5" stroke="#4a8a4a" stroke-width="2.6"/><line x1="833.2" y1="1120.0" x2="852.2" y2="1120.0" stroke="#4a8a4a" stroke-width="2.6"/><line x1="984.6" y1="1080.0" x2="984.6" y2="1135.6" stroke="#90b090" stroke-width="3"/><line x1="975.1" y1="1080.0" x2="994.1" y2="1080.0" stroke="#4a8a4a" stroke-width="2.6"/><line x1="975.1" y1="1135.6" x2="994.1" y2="1135.6" stroke="#4a8a4a" stroke-width="2.6"/><polyline points="133.2,837.7 204.1,881.0 275.1,941.5 417.0,967.0 558.9,1018.0 700.8,1090.0 842.7,1101.0 984.6,1108.0" fill="none" stroke="#0c6e0c" stroke-width="3.4" stroke-linejoin="round"/><polygon points="123.4,831.0 142.9,831.0 133.2,849.1" fill="#008000"/><polygon points="194.4,874.3 213.9,874.3 204.1,892.4" fill="#008000"/><polygon points="265.4,934.8 284.9,934.8 275.1,952.9" fill="#008000"/><polygon points="407.2,960.3 426.8,960.3 417.0,978.4" fill="#008000"/><polygon points="549.2,1011.3 568.7,1011.3 558.9,1029.4" fill="#008000"/><polygon points="691.0,1083.3 710.5,1083.3 700.8,1101.4" fill="#008000"/><polygon points="833.0,1094.3 852.5,1094.3 842.7,1112.4" fill="#008000"/><polygon points="974.9,1101.3 994.4,1101.3 984.6,1119.4" fill="#008000"/></g><g clip-path="url(#clipB)"><line x1="204.1" y1="823.9" x2="204.1" y2="875.0" stroke="#a07575" stroke-width="3"/><line x1="194.6" y1="823.9" x2="213.6" y2="823.9" stroke="#a04040" stroke-width="2.6"/><line x1="194.6" y1="875.0" x2="213.6" y2="875.0" stroke="#a04040" stroke-width="2.6"/><line x1="275.1" y1="826.0" x2="275.1" y2="855.0" stroke="#a07575" stroke-width="3"/><line x1="265.6" y1="826.0" x2="284.6" y2="826.0" stroke="#a04040" stroke-width="2.6"/><line x1="265.6" y1="855.0" x2="284.6" y2="855.0" stroke="#a04040" stroke-width="2.6"/><line x1="417.0" y1="857.4" x2="417.0" y2="896.0" stroke="#a07575" stroke-width="3"/><line x1="407.5" y1="857.4" x2="426.5" y2="857.4" stroke="#a04040" stroke-width="2.6"/><line x1="407.5" y1="896.0" x2="426.5" y2="896.0" stroke="#a04040" stroke-width="2.6"/><line x1="558.9" y1="871.5" x2="558.9" y2="926.6" stroke="#a07575" stroke-width="3"/><line x1="549.4" y1="871.5" x2="568.4" y2="871.5" stroke="#a04040" stroke-width="2.6"/><line x1="549.4" y1="926.6" x2="568.4" y2="926.6" stroke="#a04040" stroke-width="2.6"/><line x1="700.8" y1="860.0" x2="700.8" y2="906.6" stroke="#a07575" stroke-width="3"/><line x1="691.3" y1="860.0" x2="710.3" y2="860.0" stroke="#a04040" stroke-width="2.6"/><line x1="691.3" y1="906.6" x2="710.3" y2="906.6" stroke="#a04040" stroke-width="2.6"/><line x1="842.7" y1="845.0" x2="842.7" y2="910.0" stroke="#a07575" stroke-width="3"/><line x1="833.2" y1="845.0" x2="852.2" y2="845.0" stroke="#a04040" stroke-width="2.6"/><line x1="833.2" y1="910.0" x2="852.2" y2="910.0" stroke="#a04040" stroke-width="2.6"/><line x1="984.6" y1="839.7" x2="984.6" y2="893.0" stroke="#a07575" stroke-width="3"/><line x1="975.1" y1="839.7" x2="994.1" y2="839.7" stroke="#a04040" stroke-width="2.6"/><line x1="975.1" y1="893.0" x2="994.1" y2="893.0" stroke="#a04040" stroke-width="2.6"/><polyline points="133.2,837.7 204.1,852.0 275.1,839.0 417.0,876.0 558.9,890.0 700.8,882.4 842.7,878.7 984.6,866.0" fill="none" stroke="#9a0a14" stroke-width="3.4" stroke-linejoin="round"/><polygon points="123.4,831.0 142.9,831.0 133.2,849.1" fill="#920000"/><polygon points="194.4,845.3 213.9,845.3 204.1,863.4" fill="#920000"/><polygon points="265.4,832.3 284.9,832.3 275.1,850.4" fill="#920000"/><polygon points="407.2,869.3 426.8,869.3 417.0,887.4" fill="#920000"/><polygon points="549.2,883.3 568.7,883.3 558.9,901.4" fill="#920000"/><polygon points="691.0,875.7 710.5,875.7 700.8,893.8" fill="#920000"/><polygon points="833.0,872.0 852.5,872.0 842.7,890.1" fill="#920000"/><polygon points="974.9,859.3 994.4,859.3 984.6,877.4" fill="#920000"/></g><g clip-path="url(#clipB)"><line x1="133.2" y1="800.0" x2="133.2" y2="877.0" stroke="#f0a0a0" stroke-width="3"/><line x1="123.7" y1="800.0" x2="142.7" y2="800.0" stroke="#f06060" stroke-width="2.6"/><line x1="123.7" y1="877.0" x2="142.7" y2="877.0" stroke="#f06060" stroke-width="2.6"/><line x1="417.0" y1="1031.0" x2="417.0" y2="1092.6" stroke="#f0a0a0" stroke-width="3"/><line x1="407.5" y1="1031.0" x2="426.5" y2="1031.0" stroke="#f06060" stroke-width="2.6"/><line x1="407.5" y1="1092.6" x2="426.5" y2="1092.6" stroke="#f06060" stroke-width="2.6"/><line x1="700.8" y1="1143.3" x2="700.8" y2="1189.3" stroke="#f0a0a0" stroke-width="3"/><line x1="691.3" y1="1143.3" x2="710.3" y2="1143.3" stroke="#f06060" stroke-width="2.6"/><line x1="691.3" y1="1189.3" x2="710.3" y2="1189.3" stroke="#f06060" stroke-width="2.6"/><line x1="984.6" y1="1218.0" x2="984.6" y2="1268.0" stroke="#f0a0a0" stroke-width="3"/><line x1="975.1" y1="1218.0" x2="994.1" y2="1218.0" stroke="#f06060" stroke-width="2.6"/><line x1="975.1" y1="1268.0" x2="994.1" y2="1268.0" stroke="#f06060" stroke-width="2.6"/><polyline points="133.2,837.7 417.0,1061.2 700.8,1165.8 984.6,1242.0" fill="none" stroke="#ec1018" stroke-width="3.4" stroke-linejoin="round"/><rect x="123.9" y="828.5" width="18.5" height="18.5" fill="#ff0000"/><rect x="407.8" y="1052.0" width="18.5" height="18.5" fill="#ff0000"/><rect x="691.5" y="1156.5" width="18.5" height="18.5" fill="#ff0000"/><rect x="975.4" y="1232.8" width="18.5" height="18.5" fill="#ff0000"/></g><line x1="170.5" y1="1176.2" x2="238.5" y2="1176.2" stroke="#ffff00" stroke-width="4"/><circle cx="205.0" cy="1176.2" r="7.5" fill="#ffff00"/><text transform="translate(248.30,1182.80) scale(1,1.07)" text-anchor="start" font-size="21.3" font-weight="bold" fill="#111">No catalyst</text><line x1="170.5" y1="1212.8" x2="238.5" y2="1212.8" stroke="#000000" stroke-width="4"/><circle cx="205.0" cy="1212.8" r="9.5" fill="#000000"/><text transform="translate(248.30,1220.30) scale(1,1.07)" text-anchor="start" font-size="21.3" font-weight="bold" fill="#111">Degussa P25</text><line x1="170.5" y1="1249.6" x2="238.5" y2="1249.6" stroke="#008000" stroke-width="4"/><polygon points="194.8,1242.6 215.2,1242.6 205.0,1260.1" fill="#008000"/><text transform="translate(248.30,1259.00) scale(1,1.07)" text-anchor="start" font-size="21.3" font-weight="bold" fill="#111">Kronos</text><line x1="170.5" y1="1290.6" x2="238.5" y2="1290.6" stroke="#920000" stroke-width="4"/><polygon points="194.8,1283.6 215.2,1283.6 205.0,1301.1" fill="#920000"/><text transform="translate(248.30,1298.80) scale(1,1.07)" text-anchor="start" font-size="21.3" font-weight="bold" fill="#111">Ref. TiO<tspan font-size="12" dx="1">2</tspan></text><line x1="170.5" y1="1336.3" x2="238.5" y2="1336.3" stroke="#ff0000" stroke-width="4"/><rect x="195.8" y="1327.1" width="18.3" height="18.3" fill="#ff0000"/><text transform="translate(248.30,1344.00) scale(1,1.07)" text-anchor="start" font-size="21.3" font-weight="bold" fill="#111">N-TiO<tspan font-size="12" dx="1">2</tspan></text><text transform="translate(445.30,1524.30) scale(1,1.03)" text-anchor="start" font-size="29.3" font-weight="normal" fill="#2a2a2a" stroke="#2a2a2a" stroke-width="0.5">Photolysis time (h)</text><text transform="translate(45.2,1176) rotate(-90)" font-size="29" fill="#2a2a2a" stroke="#2a2a2a" stroke-width="0.5">MC-LR C/C<tspan font-size="21" dy="9.3">O</tspan></text><text transform="translate(46.60,1512.80)" text-anchor="start" font-size="30" font-weight="bold" fill="#000" font-family='"Liberation Serif", serif'>(b)</text>
</svg>
</body></html>
